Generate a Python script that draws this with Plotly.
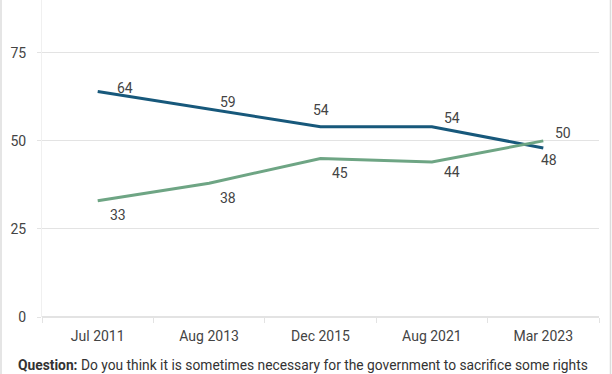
import plotly.graph_objects as go

dates = ["Jul 2011", "Aug 2013", "Dec 2015", "Aug 2021", "Mar 2023"]
blue_vals = [64, 59, 54, 54, 48]
green_vals = [33, 38, 45, 44, 50]
y_ticks = [0, 25, 50, 75]

blue_shift = [(27, 4), (19, 7), (0, 17), (20, 9), (6, -12)]
green_shift = [(20, -14), (19, -15), (19, -14), (20, -10), (20, 8)]

BLUE = "#17587b"
GREEN = "#6ea584"
TXT = "#444444"
GRID = "#e3e3e3"
FONT = "Roboto"

fig = go.Figure()
fig.add_trace(go.Scatter(x=dates, y=blue_vals, mode="lines",
                         line=dict(color=BLUE, width=3), hoverinfo="skip"))
fig.add_trace(go.Scatter(x=dates, y=green_vals, mode="lines",
                         line=dict(color=GREEN, width=3), hoverinfo="skip"))

annotations = []
for vals, shifts in ((blue_vals, blue_shift), (green_vals, green_shift)):
    for d, v, (sx, sy) in zip(dates, vals, shifts):
        annotations.append(dict(x=d, y=v, xref="x", yref="y", text=str(v),
                                showarrow=False, xshift=sx, yshift=sy,
                                font=dict(family=FONT, size=14, color=TXT)))

W, H = 612, 374
L, R, T, B = 42, 13, 0, 57
pw, ph = W - L - R, H - T - B
def px(x):
    return (x - L) / pw
def py(y):
    return (H - B - y) / ph

annotations.append(dict(x=px(16), y=py(365), xref="paper", yref="paper",
                        text="<b>Question:</b> Do you think it is sometimes necessary for the government to sacrifice some rights",
                        showarrow=False, xanchor="left", yanchor="middle",
                        font=dict(family=FONT, size=13.8, color="#333333")))

shapes = [
    dict(type="line", xref="paper", yref="paper", x0=px(1), x1=px(1), y0=py(0), y1=py(374),
         line=dict(color="#dcdcdc", width=1.5)),
    dict(type="line", xref="paper", yref="paper", x0=px(610.5), x1=px(610.5), y0=py(0), y1=py(374),
         line=dict(color="#dcdcdc", width=1.5)),
]

fig.update_layout(
    width=W, height=H,
    margin=dict(l=L, r=R, t=T, b=B, autoexpand=False),
    paper_bgcolor="white", plot_bgcolor="white",
    showlegend=False,
    font=dict(family=FONT, size=14, color=TXT),
    annotations=annotations,
    shapes=shapes,
    xaxis=dict(type="category", range=[-0.5, 4.5], tickson="boundaries", ticks="outside", ticklen=5,
               tickcolor=GRID, showgrid=False, showline=False, zeroline=False,
               ticklabelstandoff=9,
               tickfont=dict(family=FONT, size=14, color=TXT), fixedrange=True),
    yaxis=dict(range=[0, 90], tickvals=y_ticks, showgrid=True, gridcolor=GRID, gridwidth=1,
               ticks="outside", ticklen=4, tickcolor=GRID, zeroline=True, zerolinecolor=GRID,
               zerolinewidth=1.5, showline=True, linecolor="#f0f0f0", linewidth=1,
               ticklabelstandoff=8,
               tickfont=dict(family=FONT, size=14, color=TXT), fixedrange=True),
)

fig.write_html("out.html", config={"displayModeBar": False},
               post_script="document.body.style.margin='0';")
